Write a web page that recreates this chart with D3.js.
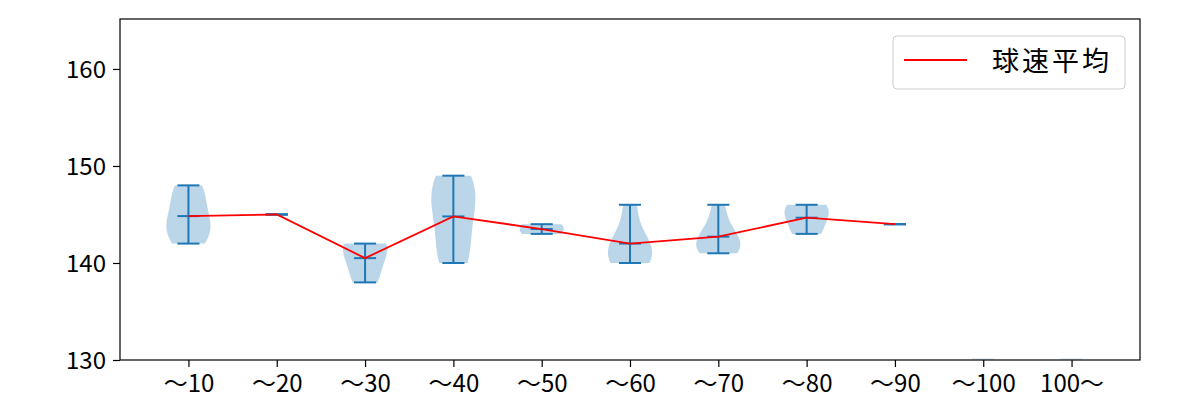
<!DOCTYPE html>
<html><head><meta charset="utf-8">
<script src="https://cdn.jsdelivr.net/npm/d3@7"></script>
<style>html,body{margin:0;padding:0;background:#fff;}</style>
</head><body>
<svg id="chart" width="1200" height="400"></svg>
<script>
// ---- data ----
const categories = ["～10","～20","～30","～40","～50","～60","～70","～80","～90","～100","100～"];
const speeds10  = [142,143,144,145,147,148];
const speeds20  = [145];
const speeds30  = [138,140,142,142];
const speeds40  = [140,142,146,147,149];
const speeds50  = [143,144];
const speeds60  = [140,140,141,142,143,146];
const speeds70  = [141,141,142,142,143,144,146];
const speeds80  = [143,145,146];
const speeds90  = [144];
const speeds100 = [];
const speedsOver = [];
const groups = [speeds10,speeds20,speeds30,speeds40,speeds50,speeds60,speeds70,speeds80,speeds90,speeds100,speedsOver];
const yTicks = [130,140,150,160];
const legendLabel = "球速平均";

// ---- layout ----
const L = 120, R = 1140, T = 19, B = 360;
const svg = d3.select("#chart");
const x = d3.scaleLinear().domain([0.225, 11.775]).range([L, R]);
const y = d3.scaleLinear().domain([130, 165.15]).range([B, T]);
const blue = "#1f77b4";
const font = "'Noto Sans CJK JP', 'Noto Sans', sans-serif";

// Gaussian KDE (Scott) like matplotlib violinplot
function kde(data, pts) {
  const n = data.length;
  const m = d3.mean(data);
  const sd = Math.sqrt(d3.sum(data, v => (v - m) ** 2) / (n - 1));
  const bw = Math.pow(n, -0.2) * sd;
  return pts.map(p => d3.sum(data, v => Math.exp(-0.5 * ((p - v) / bw) ** 2)));
}

const g = svg.append("g");
const halfW = 0.25, capW = 0.125;

groups.forEach((data, i) => {
  const pos = i + 1;
  if (data.length === 0) {
    g.append("rect").attr("x", x(pos - capW)).attr("width", x(pos + capW) - x(pos - capW))
      .attr("y", y(130) - 2).attr("height", 2).attr("fill", blue).attr("opacity", 0.12);
    return;
  }
  const lo = d3.min(data), hi = d3.max(data), mean = d3.mean(data);
  if (hi > lo) {
    const pts = d3.range(100).map(k => lo + (hi - lo) * k / 99);
    const dens = kde(data, pts);
    const mx = d3.max(dens);
    const vals = dens.map(d => d / mx * halfW);
    const area = d3.area()
      .y((d, k) => y(pts[k]))
      .x0((d) => x(pos - d))
      .x1((d) => x(pos + d));
    g.append("path").datum(vals).attr("d", area)
      .attr("fill", blue).attr("fill-opacity", 0.3).attr("stroke", "none");
  }
  g.append("line").attr("x1", x(pos)).attr("x2", x(pos)).attr("y1", y(lo)).attr("y2", y(hi))
    .attr("stroke", blue).attr("stroke-width", 2);
  [lo, hi, mean].forEach(v => {
    g.append("line").attr("x1", x(pos - capW)).attr("x2", x(pos + capW))
      .attr("y1", y(v)).attr("y2", y(v)).attr("stroke", blue).attr("stroke-width", 2);
  });
});

// mean line
const meanPts = groups.map((d, i) => ({pos: i + 1, v: d.length ? d3.mean(d) : null})).filter(d => d.v !== null);
g.append("path").datum(meanPts)
  .attr("d", d3.line().x(d => x(d.pos)).y(d => y(d.v)))
  .attr("fill", "none").attr("stroke", "#ff0000").attr("stroke-width", 1.8);

// axes
const xAxis = d3.axisBottom(x).tickValues(d3.range(1, 12)).tickFormat(d => categories[d - 1])
  .tickSizeInner(7).tickSizeOuter(0).tickPadding(6);
const yAxis = d3.axisLeft(y).tickValues(yTicks).tickSizeInner(7).tickSizeOuter(0).tickPadding(7);
const gx = svg.append("g").attr("transform", `translate(0,${B})`).call(xAxis);
const gy = svg.append("g").attr("transform", `translate(${L},0)`).call(yAxis);
[gx, gy].forEach(a => {
  a.select(".domain").remove();
  a.selectAll(".tick line").attr("stroke", "#000").attr("stroke-width", 1.2);
  a.selectAll(".tick text").attr("fill", "#000").style("font-family", font).style("font-size", "24px");
});
gy.selectAll(".tick text").attr("dy", "0.36em");
gx.selectAll(".tick text").attr("dy", "0.8em");

// frame
svg.append("rect").attr("x", L).attr("y", T).attr("width", R - L).attr("height", B - T)
  .attr("fill", "none").attr("stroke", "#000").attr("stroke-width", 1.2);

// legend
const lg = svg.append("g").attr("transform", `translate(${R - 247},${T + 17})`);
lg.append("rect").attr("x", 0).attr("y", 0).attr("width", 232).attr("height", 53).attr("rx", 4)
  .attr("fill", "#fff").attr("fill-opacity", 0.8).attr("stroke", "#cccccc").attr("stroke-width", 1);
lg.append("line").attr("x1", 11).attr("x2", 74).attr("y1", 24).attr("y2", 24)
  .attr("stroke", "#ff0000").attr("stroke-width", 1.8);
lg.append("text").attr("x", 99).attr("y", 35).text(legendLabel)
  .style("font-family", font).style("font-size", "27px").style("letter-spacing", "3px").attr("fill", "#000");
</script>
</body></html>
